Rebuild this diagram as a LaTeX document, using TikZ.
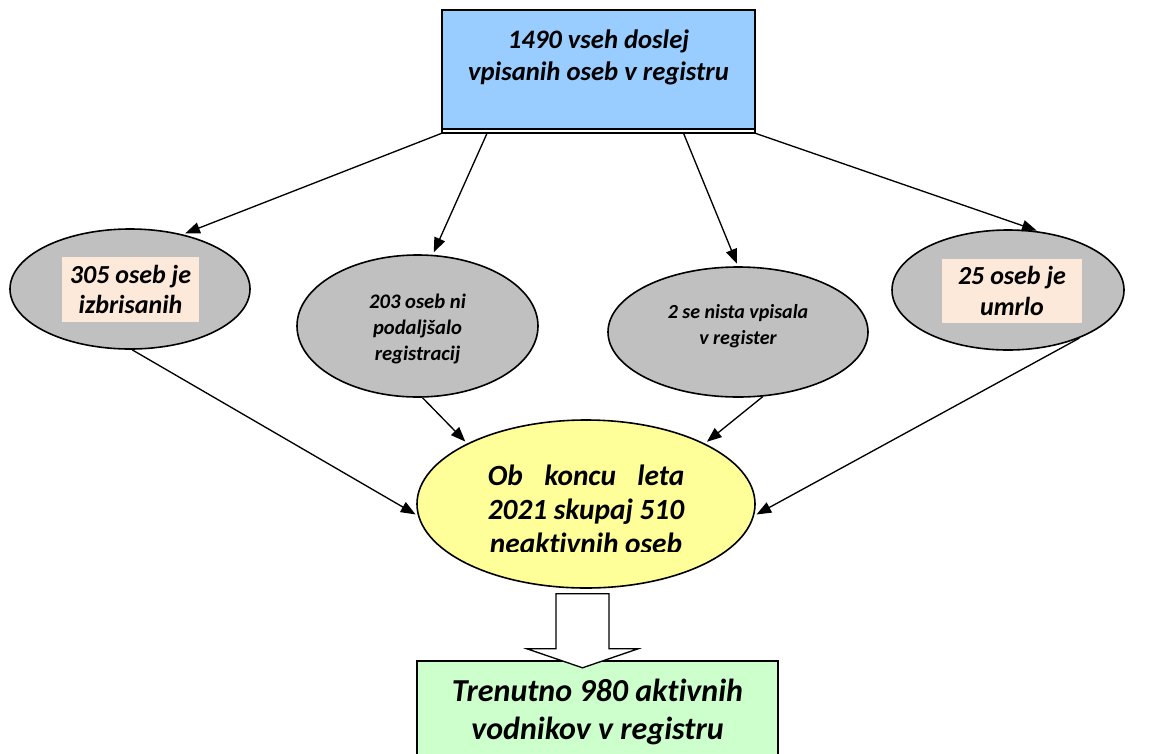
\documentclass[tikz,border=0pt]{standalone}
\usepackage{fontspec}
\setmainfont{Carlito}[Ligatures=NoCommon]
\usepackage{calc}
\usetikzlibrary{arrows.meta,shapes.geometric,calc}

\definecolor{topblue}{HTML}{99CCFF}
\definecolor{ovalgrey}{HTML}{C0C0C0}
\definecolor{tagpink}{HTML}{FDE9D9}
\definecolor{sumyellow}{HTML}{FFFF99}
\definecolor{nowgreen}{HTML}{CCFFCC}

\begin{document}
\begin{tikzpicture}[
    x=0.75pt, y=-0.75pt,
    txt/.style={align=center, inner sep=0pt},
    t15/.style={txt, font=\bfseries\itshape\fontsize{15pt}{19.5pt}\selectfont},
    t16/.style={txt, font=\bfseries\itshape\fontsize{15.5pt}{19.5pt}\selectfont},
    t19/.style={txt, font=\bfseries\itshape\fontsize{19.5pt}{23pt}\selectfont},
    t20/.style={txt, font=\bfseries\itshape\fontsize{20pt}{24pt}\selectfont},
    t22/.style={txt, font=\bfseries\itshape\fontsize{22pt}{25.5pt}\selectfont},
    t24/.style={txt, font=\bfseries\itshape\fontsize{24pt}{28pt}\selectfont},
    box/.style={draw, line width=1.2pt, inner sep=0pt},
    oval/.style={ellipse, draw, line width=1.2pt, fill=ovalgrey, inner sep=0pt},
    tag/.style={fill=tagpink},
    arr/.style={line width=1pt, -{Triangle[length=11pt, width=8.5pt]}, shorten >=2pt}
  ]
  \useasboundingbox (0,0) rectangle (1176,753);

  % Top: all registered persons
  \node[fill=topblue, inner sep=0pt, minimum width=234.75pt, minimum height=92.25pt] (top) at (598.5,71.5) {};
  \fill[white] ($(top.south west)+(0,-4)$) rectangle (top.south east);
  \draw[line width=1.2pt] (top.south west) rectangle (top.north east);
  \draw[line width=1.2pt] ($(top.south west)+(0,-4)$) -- ($(top.south east)+(0,-4)$);
  \node[t20] (toptxt) at (598.5,57) {1490 vseh doslej\\vpisanih oseb v registru};

  % Middle row: the four groups
  \node[oval, minimum width=180pt, minimum height=90pt] (del) at (130,289) {};
  \node[t19, tag, minimum width=102.75pt, minimum height=48.75pt] (deltxt) at (130.5,289.5) {305 oseb je\\izbrisanih};
  \node[oval, minimum width=180.75pt, minimum height=106.5pt] (ext) at (417.5,326) {};
  \node[t16] (exttxt) at (417.5,329) {203 oseb ni\\podaljšalo\\registracij};
  \node[oval, minimum width=195pt, minimum height=97.5pt] (none) at (738,332) {};
  \node[t15] (nonetxt) at (738,326) {2 se nista vpisala\\v register};
  \node[oval, minimum width=174pt, minimum height=90pt] (dead) at (1008,290) {};
  \node[t19, tag, minimum width=105pt, minimum height=48pt] (deadtxt) at (1012,291) {25 oseb je\\umrlo};

  % Sum of inactive persons
  \node[oval, fill=sumyellow, minimum width=253.5pt, minimum height=126pt] (sum) at (586,504) {};
  \begin{scope}
    \clip (400,420) rectangle (780,551);
    \node[t22] (sumtxt) at (586,509) {\makebox[\widthof{2021 skupaj 510}][s]{Ob koncu leta}\\2021 skupaj 510\\neaktivnih oseb};
  \end{scope}

  % Bottom: active persons
  \node[box, t24, fill=nowgreen, minimum width=270.75pt, minimum height=76.5pt] (now) at (597.5,712) {Trenutno 980 aktivnih\\vodnikov v registru};

  % Connectors
  \draw[arr] (top.south west) -- (del.46);
  \draw[arr] (top.209.5) -- (ext.78);
  \draw[arr] (top.324) -- (none.north);
  \draw[arr] (top.south east) -- (dead.62);
  \draw[arr] (del.-88) -- (sum.184);
  \draw[arr] (ext.-86) -- (sum.153);
  \draw[arr] (none.-69) -- (sum.27);
  \draw[arr] (dead.-34) -- (sum.-4);

  % Block arrow down to the result
  \draw[line width=1pt, fill=white] ($(sum.south)+(-30,5)$) -- ++(0,55) -- ++(-29,0) -- ++(55.5,19) -- ++(55.5,-19) -- ++(-29,0) -- ++(0,-55) -- cycle;

\end{tikzpicture}
\end{document}
